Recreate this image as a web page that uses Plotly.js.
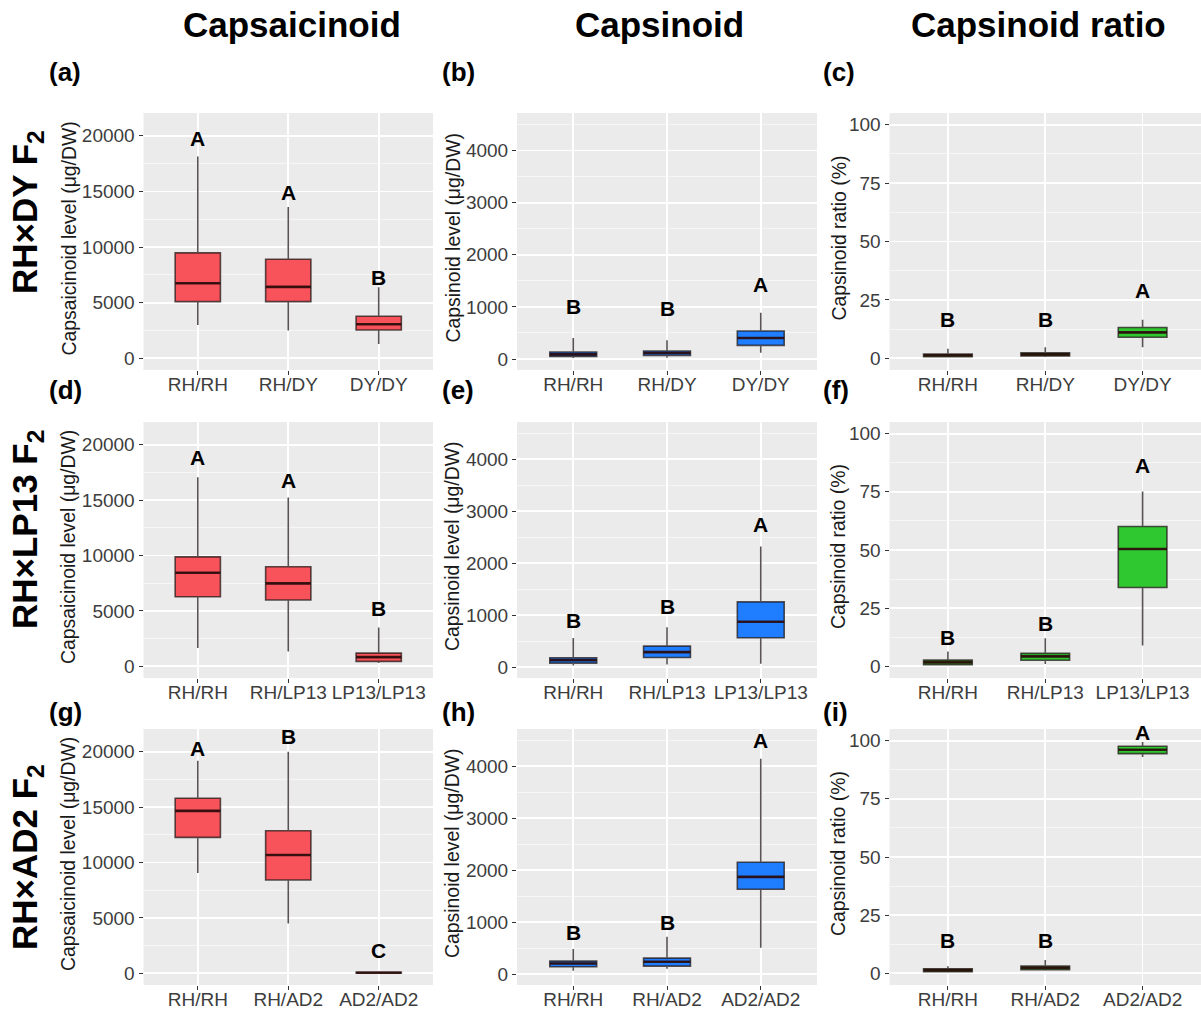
<!DOCTYPE html>
<html>
<head>
<meta charset="utf-8">
<script src="https://cdn.plot.ly/plotly-3.0.1.min.js"></script>
<style>html,body{margin:0;padding:0;background:#fff;} #chart{width:1201px;height:1012px;}</style>
</head>
<body>
<div id="chart"></div>
<script>
// ---------- categories ----------
const catsDY   = ['RH/RH', 'RH/DY', 'DY/DY'];
const catsLP13 = ['RH/RH', 'RH/LP13', 'LP13/LP13'];
const catsAD2  = ['RH/RH', 'RH/AD2', 'AD2/AD2'];

// ---------- (a) RH×DY capsaicinoid ----------
const a_q1 = [5100, 5100, 2550];
const a_med = [6750, 6420, 3060];
const a_q3 = [9480, 8910, 3780];
const a_lo = [3000, 2490, 1290];
const a_hi = [18150, 13590, 6390];
const a_let = ['A', 'A', 'B'];
const a_letY = [19800, 14910, 7290];

// ---------- (b) RH×DY capsinoid ----------
const b_q1 = [51, 71, 263];
const b_med = [90, 116, 404];
const b_q3 = [135, 154, 539];
const b_lo = [19, 26, 122];
const b_hi = [404, 360, 886];
const b_let = ['B', 'B', 'A'];
const b_letY = [1000, 969, 1438];

// ---------- (c) RH×DY capsinoid ratio ----------
const c_q1 = [0.7, 1.0, 9.0];
const c_med = [1.3, 1.7, 11.1];
const c_q3 = [1.85, 2.4, 13.2];
const c_lo = [0.4, 0.6, 4.7];
const c_hi = [4.1, 4.7, 16.5];
const c_let = ['B', 'B', 'A'];
const c_letY = [16.5, 16.5, 28.9];

// ---------- (d) RH×LP13 capsaicinoid ----------
const d_q1 = [6287, 5988, 449];
const d_med = [8443, 7485, 838];
const d_q3 = [9880, 8982, 1198];
const d_lo = [1647, 1347, 300];
const d_hi = [17066, 15240, 3503];
const d_let = ['A', 'A', 'B'];
const d_letY = [18862, 16766, 5180];

// ---------- (e) RH×LP13 capsinoid ----------
const e_q1 = [77, 186, 564];
const e_med = [135, 288, 872];
const e_q3 = [179, 404, 1256];
const e_lo = [32, 51, 64];
const e_hi = [558, 769, 2320];
const e_let = ['B', 'B', 'A'];
const e_letY = [897, 1173, 2737];

// ---------- (f) RH×LP13 capsinoid ratio ----------
const f_q1 = [0.7, 2.6, 33.9];
const f_med = [1.7, 4.3, 50.4];
const f_q3 = [2.7, 5.6, 60.1];
const f_lo = [0.4, 1.0, 9.0];
const f_hi = [6.4, 12.1, 75.1];
const f_let = ['B', 'B', 'A'];
const f_letY = [12.5, 18.5, 86.2];

// ---------- (g) RH×AD2 capsaicinoid ----------
const g_q1 = [12270, 8427, 30];
const g_med = [14660, 10677, 60];
const g_q3 = [15800, 12866, 100];
const g_lo = [9057, 4500, 0];
const g_hi = [19190, 20000, 180];
const g_let = ['A', 'B', 'C'];
const g_letY = [20300, 21350, 2100];

// ---------- (h) RH×AD2 capsinoid ----------
const h_q1 = [141, 154, 1635];
const h_med = [205, 237, 1872];
const h_q3 = [250, 308, 2154];
const h_lo = [64, 103, 506];
const h_hi = [481, 718, 4147];
const h_let = ['B', 'B', 'A'];
const h_letY = [801, 987, 4500];

// ---------- (i) RH×AD2 capsinoid ratio ----------
const i_q1 = [0.7, 1.6, 94.4];
const i_med = [1.4, 2.4, 96.1];
const i_q3 = [2.0, 3.1, 97.6];
const i_lo = [0.4, 1.1, 93.0];
const i_hi = [3.1, 5.7, 99.4];
const i_let = ['B', 'B', 'A'];
const i_letY = [14.3, 14.3, 103.4];

// ---------- text ----------
const colTitles = ['Capsaicinoid', 'Capsinoid', 'Capsinoid ratio'];
const rowTitles = ['RH×DY F<sub>2</sub>', 'RH×LP13 F<sub>2</sub>', 'RH×AD2 F<sub>2</sub>'];
const yTitles = ['Capsaicinoid level (μg/DW)', 'Capsinoid level (μg/DW)', 'Capsinoid ratio (%)'];
const panelTags = ['(a)', '(b)', '(c)', '(d)', '(e)', '(f)', '(g)', '(h)', '(i)'];

// ---------- layout geometry (pixels) ----------
const W = 1201, H = 1012;
const colPx = [[143.5, 433], [517, 817], [889.5, 1201]];
const rowPx = [[113, 370], [422, 678], [729, 985]];
const yRanges = [[-1050, 22050], [-210, 4720], [-5, 105]];
const yDtick = [5000, 1000, 25];
const fills = ['#F8525A', '#1F7DFF', '#30C830'];

const panels = [
  [catsDY, a_q1, a_med, a_q3, a_lo, a_hi, a_let, a_letY],
  [catsDY, b_q1, b_med, b_q3, b_lo, b_hi, b_let, b_letY],
  [catsDY, c_q1, c_med, c_q3, c_lo, c_hi, c_let, c_letY],
  [catsLP13, d_q1, d_med, d_q3, d_lo, d_hi, d_let, d_letY],
  [catsLP13, e_q1, e_med, e_q3, e_lo, e_hi, e_let, e_letY],
  [catsLP13, f_q1, f_med, f_q3, f_lo, f_hi, f_let, f_letY],
  [catsAD2, g_q1, g_med, g_q3, g_lo, g_hi, g_let, g_letY],
  [catsAD2, h_q1, h_med, h_q3, h_lo, h_hi, h_let, h_letY],
  [catsAD2, i_q1, i_med, i_q3, i_lo, i_hi, i_let, i_letY]
];

const FONT = '"Liberation Sans", Arial, sans-serif';
const data = [];
const shapes = [];
const annotations = [];
const layout = {
  width: W, height: H,
  margin: {l: 0, r: 0, t: 0, b: 0},
  paper_bgcolor: '#ffffff',
  plot_bgcolor: '#EBEBEB',
  showlegend: false,
  font: {family: FONT, color: '#000', size: 19},
  shapes: shapes,
  annotations: annotations
};

const px2x = p => p / W;
const px2y = p => 1 - p / H;

panels.forEach((p, k) => {
  const [cats, q1, med, q3, lo, hi, lets, letY] = p;
  const row = Math.floor(k / 3), col = k % 3;
  const n = k + 1;
  const xa = n === 1 ? 'x' : 'x' + n;
  const ya = n === 1 ? 'y' : 'y' + n;
  data.push({
    type: 'box',
    x: cats, q1: q1, median: med, q3: q3, lowerfence: lo, upperfence: hi,
    xaxis: xa, yaxis: ya,
    width: 0.5, whiskerwidth: 0, boxpoints: false,
    fillcolor: fills[col],
    line: {color: 'rgba(35,25,25,0.75)', width: 1.6},
    hoverinfo: 'skip'
  });
  cats.forEach((c, i) => {
    shapes.push({
      type: 'line', xref: xa, yref: ya, layer: 'above',
      x0: i - 0.25, x1: i + 0.25, y0: med[i], y1: med[i],
      line: {color: 'rgba(45,10,10,0.85)', width: 2.6}
    });
    annotations.push({
      xref: xa, yref: ya, x: c, y: letY[i], text: lets[i], showarrow: false,
      xanchor: 'center', yanchor: 'middle',
      font: {family: FONT, size: 21, color: '#000', weight: 'bold'}
    });
  });
  const gridBase = {
    showgrid: true, gridcolor: '#ffffff', gridwidth: 1.8,
    zeroline: false, showline: false,
    ticks: 'outside', ticklen: 4, tickwidth: 1, tickcolor: '#333333',
    tickfont: {family: FONT, size: 19, color: '#3d3d3d'},
    fixedrange: true
  };
  layout['xaxis' + (n === 1 ? '' : n)] = Object.assign({}, gridBase, {
    domain: [px2x(colPx[col][0]), px2x(colPx[col][1])],
    anchor: ya,
    type: 'category',
    categoryorder: 'array', categoryarray: cats,
    range: [-0.6, 2.6],
    ticklabelstandoff: -7
  });
  layout['yaxis' + (n === 1 ? '' : n)] = Object.assign({}, gridBase, {
    domain: [px2y(rowPx[row][1]), px2y(rowPx[row][0])],
    anchor: xa,
    range: yRanges[col],
    tick0: 0, dtick: yDtick[col],
    tickformat: 'd', exponentformat: 'none',
    minor: {dtick: yDtick[col] / 2, tick0: yDtick[col] / 2, showgrid: true,
            gridcolor: '#F7F7F7', gridwidth: 0.9, ticks: ''}
  });
  // y-axis title
  annotations.push({
    xref: 'paper', yref: 'paper',
    x: px2x([68, 452, 838][col]),
    y: px2y((rowPx[row][0] + rowPx[row][1]) / 2 - 3),
    text: yTitles[col], textangle: -90, showarrow: false,
    xanchor: 'center', yanchor: 'middle',
    font: {family: FONT, size: 19.4, color: '#1a1a1a'}
  });
  // panel tag
  annotations.push({
    xref: 'paper', yref: 'paper',
    x: px2x([47, 440, 821][col]),
    y: px2y([72, 390, 712][row]),
    text: panelTags[k], showarrow: false,
    xanchor: 'left', yanchor: 'middle',
    font: {family: FONT, size: 26, color: '#000', weight: 'bold'}
  });
});

// column titles
[292, 659, 1038].forEach((cx, j) => {
  annotations.push({
    xref: 'paper', yref: 'paper', x: px2x(cx), y: px2y(25),
    text: colTitles[j], showarrow: false, xanchor: 'center', yanchor: 'middle',
    font: {family: FONT, size: 35, color: '#000', weight: 'bold'}
  });
});
// row titles
[212, 530, 857].forEach((cy, j) => {
  annotations.push({
    xref: 'paper', yref: 'paper', x: px2x(27), y: px2y(cy),
    text: rowTitles[j], textangle: -90, showarrow: false,
    xanchor: 'center', yanchor: 'middle',
    font: {family: FONT, size: 35, color: '#000', weight: 'bold'}
  });
});

Plotly.newPlot('chart', data, layout, {staticPlot: true, displayModeBar: false});
</script>
</body>
</html>
